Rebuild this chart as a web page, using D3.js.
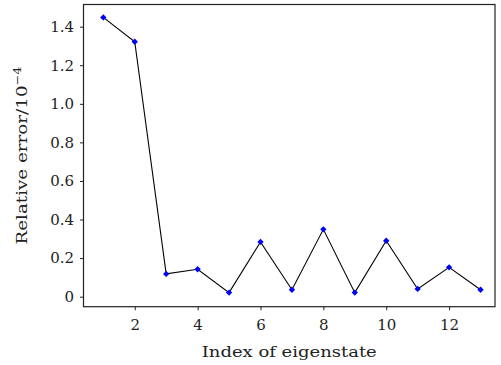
<!DOCTYPE html>
<html><head><meta charset="utf-8">
<script src="https://cdn.jsdelivr.net/npm/d3@7"></script>
<style>body{margin:0;background:#fff;} svg{display:block;}</style>
</head><body>
<script>
const indices = [1,2,3,4,5,6,7,8,9,10,11,12,13];
const relErr = [1.448,1.322,0.118,0.142,0.021,0.284,0.036,0.349,0.021,0.290,0.040,0.152,0.036];
const xTicks = [2,4,6,8,10,12];
const yTicks = [0,0.2,0.4,0.6,0.8,1.0,1.2,1.4];
const yTickLabels = ["0","0.2","0.4","0.6","0.8","1.0","1.2","1.4"];

const W = 501, H = 365;
const L = 83.5, R = 495, T = 4.5, B = 306.7;
const font = "'DejaVu Serif', serif";

const svg = d3.select("body").append("svg").attr("width", W).attr("height", H);
const x = d3.scaleLinear().domain([0.37, 13.46]).range([L, R]);
const y = d3.scaleLinear().domain([-0.052, 1.515]).range([B, T]);

const xAxis = d3.axisBottom(x).tickValues(xTicks).tickSize(3.5).tickSizeOuter(0).tickPadding(9).tickFormat(d3.format("d"));
const yAxis = d3.axisLeft(y).tickValues(yTicks).tickSize(3.5).tickSizeOuter(0).tickPadding(6).tickFormat((d,i)=>yTickLabels[i]);

const gx = svg.append("g").attr("transform", `translate(0,${B})`).call(xAxis);
const gy = svg.append("g").attr("transform", `translate(${L},0)`).call(yAxis);
[gx, gy].forEach(g => {
  g.select(".domain").remove();
  g.selectAll("line").attr("stroke", "#222").attr("stroke-width", 1);
  g.selectAll("text").attr("font-family", font).attr("font-size", 15).attr("fill", "#222");
});

svg.append("rect").attr("x", L).attr("y", T).attr("width", R-L).attr("height", B-T)
  .attr("fill", "none").attr("stroke", "#222").attr("stroke-width", 1.2);

const pts = indices.map((d,i)=>[d, relErr[i]]);
svg.append("path").datum(pts)
  .attr("d", d3.line().x(d=>x(d[0])).y(d=>y(d[1])))
  .attr("fill", "none").attr("stroke", "#000").attr("stroke-width", 1.1);

svg.selectAll(".m").data(pts).enter().append("path")
  .attr("transform", d=>`translate(${x(d[0])},${y(d[1])}) rotate(45)`)
  .attr("d", d3.symbol().type(d3.symbolSquare).size(20))
  .attr("fill", "#0000ff");

svg.append("text").attr("x", (L+R)/2).attr("y", 356.5).attr("text-anchor", "middle")
  .attr("font-family", font).attr("font-size", 15).attr("fill", "#222")
  .attr("textLength", 175).attr("lengthAdjust", "spacingAndGlyphs")
  .text("Index of eigenstate");

const yl = svg.append("text").attr("transform", `translate(27,${(T+B)/2}) rotate(-90)`)
  .attr("text-anchor", "middle").attr("font-family", font).attr("font-size", 15).attr("fill", "#222")
  .attr("textLength", 178).attr("lengthAdjust", "spacingAndGlyphs");
yl.append("tspan").text("Relative error/10");
yl.append("tspan").attr("dy", -6).attr("font-size", 10.5).text("−4");
</script>
</body></html>
